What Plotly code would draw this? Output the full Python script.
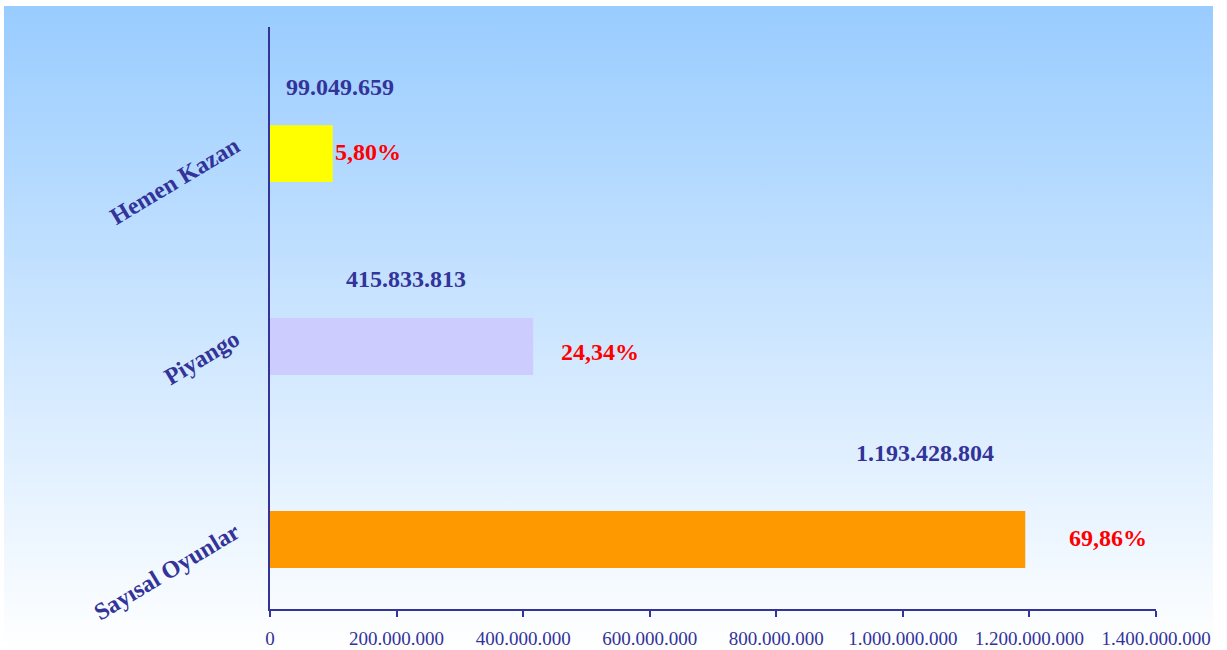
import base64
import plotly.graph_objects as go

# ---- data (bottom to top) ----
categories = ["Sayısal Oyunlar", "Piyango", "Hemen Kazan"]
values = [1193428804, 415833813, 99049659]
bar_colors = ["#FF9900", "#CCCCFF", "#FFFF00"]
x_tick_values = [0, 200000000, 400000000, 600000000, 800000000, 1000000000, 1200000000, 1400000000]

total = sum(values)
percents = [v / total * 100 for v in values]

# ---- style offsets for labels (pixels) ----
value_label_dx = [-100, -127, 7]
value_label_dy = [77, 58, 57]
pct_label_dx = [42, 26, 0]
pct_label_dy = [-8, -15, -8]

W, H = 1227, 650
L, R, T, B = 270, 71, 27, 41
pw, ph = W - L - R, H - T - B

BAR_W = 0.295
BAR_SHIFT = 0.052  # bars sit slightly below the category label position

fig = go.Figure()
fig.add_trace(go.Bar(
    y=categories, x=values, orientation="h",
    marker=dict(color=bar_colors, line=dict(width=0)),
    width=BAR_W, offset=-BAR_W / 2 - BAR_SHIFT, hoverinfo="x+y",
))

annotations = []
for i, (c, v, p) in enumerate(zip(categories, values, percents)):
    annotations.append(dict(
        x=v, y=c, xref="x", yref="y", text=f"{v:,}".replace(",", "."),
        showarrow=False, xanchor="center", yanchor="middle",
        xshift=value_label_dx[i], yshift=value_label_dy[i],
        font=dict(family="Liberation Serif", size=24, color="#333399", weight="bold"),
    ))
    annotations.append(dict(
        x=v, y=c, xref="x", yref="y", text=f"{p:.2f}".replace(".", ",") + "%",
        showarrow=False, xanchor="left", yanchor="middle",
        xshift=pct_label_dx[i], yshift=pct_label_dy[i],
        font=dict(family="Liberation Serif", size=24, color="#FF0000", weight="bold"),
    ))

# gradient background as svg image
svg = ('<svg xmlns="http://www.w3.org/2000/svg" width="100" height="100" preserveAspectRatio="none">'
       '<defs><linearGradient id="g" x1="0" y1="0" x2="0" y2="1">'
       '<stop offset="0" stop-color="#99CCFF"/><stop offset="1" stop-color="#FFFFFF"/>'
       '</linearGradient></defs><rect width="100" height="100" fill="url(#g)"/></svg>')
src = "data:image/svg+xml;base64," + base64.b64encode(svg.encode()).decode()
bx0, bx1, by0, by1 = 4, 1213, 6, 650
img = dict(
    source=src, xref="paper", yref="paper",
    x=(bx0 - L) / pw, y=(H - B - by0) / ph,
    sizex=(bx1 - bx0) / pw, sizey=(by1 - by0) / ph,
    xanchor="left", yanchor="top", sizing="stretch", layer="below",
)

fig.update_layout(
    width=W, height=H,
    margin=dict(l=L, r=R, t=T, b=B, pad=0, autoexpand=False),
    paper_bgcolor="white", plot_bgcolor="rgba(0,0,0,0)",
    separators=",.",
    showlegend=False,
    images=[img],
    annotations=annotations,
    xaxis=dict(
        range=[0, 1400000000], tickvals=x_tick_values, tickformat=",.0f",
        automargin=False,
        showgrid=False, zeroline=False, showline=True, linecolor="#333399", linewidth=2,
        ticks="outside", ticklen=6, tickwidth=2, tickcolor="#333399",
        tickfont=dict(family="Liberation Serif", size=19, color="#333399"),
        ticklabelstandoff=5,
    ),
    yaxis=dict(
        type="category", categoryorder="array", categoryarray=categories,
        range=[-0.412, 2.604], automargin=False,
        showgrid=False, zeroline=False, showline=True, linecolor="#333399", linewidth=2,
        ticks="", tickangle=-31,
        tickfont=dict(family="Liberation Serif", size=24, color="#333399", weight="bold"),
        ticklabelstandoff=28,
    ),
)

fig.write_html(
    "out.html",
    config={"displayModeBar": False},
    post_script="document.body.style.margin='0';document.body.style.overflow='hidden';",
)
